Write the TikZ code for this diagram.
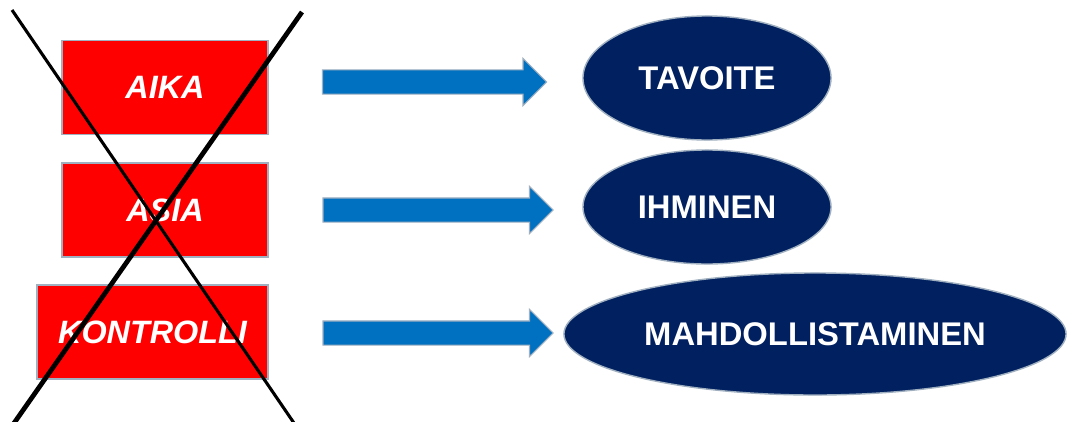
\documentclass[tikz,border=0pt]{standalone}
\usepackage{fontspec}
\setmainfont{Liberation Sans}
\definecolor{crossred}{RGB}{255,0,0}
\definecolor{navyoval}{RGB}{0,32,96}
\definecolor{flowblue}{RGB}{0,112,192}
\definecolor{softedge}{RGB}{160,176,192}
\usetikzlibrary{shapes.geometric,shapes.arrows}

\begin{document}
\begin{tikzpicture}[
  x=0.025cm,y=-0.025cm,
  oldbox/.style={draw=softedge,line width=1pt,fill=crossred,minimum height=2.35cm,
                 inner sep=0pt,text=white,font=\fontsize{23}{26}\selectfont\bfseries\itshape},
  goaloval/.style={ellipse,draw=softedge,line width=1pt,fill=navyoval,inner sep=0pt,
                   text=white,font=\fontsize{23.3}{26}\selectfont\bfseries},
  flowarrow/.style={single arrow,draw=softedge,line width=0.8pt,fill=flowblue,
                    inner sep=0.2875cm,single arrow head extend=0.2875cm,
                    shape border rotate=0,single arrow tip angle=90},
]
  \clip (0,0) rectangle (1076,421);
  \fill[white] (0,0) rectangle (1076,421);

  % Left column: crossed-out boxes
  \node[oldbox,minimum width=5.15cm] (aika) at (165,87.5) {AIKA};
  \node[oldbox,minimum width=5.15cm] (asia) at (165,210) {ASIA};
  \node[oldbox,minimum width=5.78cm] (kontrolli) at (152.5,332) {KONTROLLI};

  % Cross over the boxes
  \draw[line width=2.2pt,black] (12,10) -- (296,426);
  \draw[line width=3.4pt,black] (302,12) -- (12,426);

  % Middle: block arrows
  \node[flowarrow,minimum height=5.6cm] (arr1) at (428.5,82) {};
  \node[flowarrow,minimum height=5.75cm] (arr2) at (432,210) {};
  \node[flowarrow,minimum height=5.75cm] (arr3) at (432,333) {};

  % Right column: ovals
  \node[goaloval,minimum width=6.2cm,minimum height=3.1cm] (tavoite) at (707,78) {TAVOITE};
  \node[goaloval,minimum width=6.2cm,minimum height=2.85cm] (ihminen) at (707,207) {IHMINEN};
  \node[goaloval,minimum width=12.55cm,minimum height=3.05cm] (mahd) at (815,334) {MAHDOLLISTAMINEN};
\end{tikzpicture}
\end{document}
